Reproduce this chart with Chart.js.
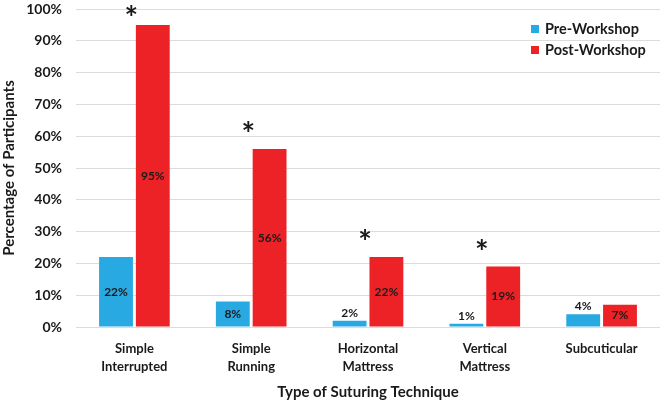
<!DOCTYPE html>
<html>
<head>
<meta charset="utf-8">
<script src="https://cdn.jsdelivr.net/npm/chart.js@4/dist/chart.umd.min.js"></script>
<style>
  html, body { margin: 0; padding: 0; background: #fff; }
  #wrap { width: 666px; height: 401px; position: relative; }
</style>
</head>
<body>
<div id="wrap"><canvas id="chart"></canvas></div>
<script>
// data
var categories = [["Simple", "Interrupted"], ["Simple", "Running"], ["Horizontal", "Mattress"], ["Vertical", "Mattress"], "Subcuticular"];
var preWorkshop = [22, 8, 2, 1, 4];
var postWorkshop = [95, 56, 22, 19, 7];
var significant = [true, true, true, true, false];
var yTicks = [0, 10, 20, 30, 40, 50, 60, 70, 80, 90, 100];

var BLUE = "#29a9e1", RED = "#ec2227";
var FONT = "Lato, 'Open Sans', sans-serif";

// value labels on bars + asterisks over significant groups
var barLabels = {
    id: "barLabels",
    afterDatasetsDraw: function (chart) {
        var ctx = chart.ctx, area = chart.chartArea;
        ctx.save();
        ctx.font = "bold 12px " + FONT;
        ctx.fillStyle = "#1a1a1a";
        ctx.textAlign = "center";
        ctx.textBaseline = "middle";
        chart.data.datasets.forEach(function (ds, di) {
            chart.getDatasetMeta(di).data.forEach(function (bar, i) {
                var h = bar.base - bar.y;
                var y = h > 20 ? (bar.y + bar.base) / 2 : bar.y - 8;
                ctx.fillText(ds.data[i] + "%", bar.x, y);
            });
        });
        // asterisks
        ctx.font = "bold 32px " + FONT;
        var post = chart.getDatasetMeta(1).data;
        significant.forEach(function (s, i) {
            if (!s) return;
            var x = chart.scales.x.getPixelForValue(i) - 3;
            var y = Math.max(post[i].y - 22, area.top + 2);
            ctx.fillText("*", x, y + 9);
        });
        ctx.restore();
    }
};

// legend drawn inside the plot, top right
var innerLegend = {
    id: "innerLegend",
    afterDraw: function (chart) {
        var ctx = chart.ctx;
        ctx.save();
        ctx.font = "bold 14.5px " + FONT;
        ctx.textBaseline = "middle";
        ctx.textAlign = "left";
        chart.data.datasets.forEach(function (ds, i) {
            var y = 29 + i * 21;
            ctx.fillStyle = ds.backgroundColor;
            ctx.fillRect(531, y - 4, 8, 8);
            ctx.fillStyle = "#1a1a1a";
            ctx.fillText(ds.label, 545, y);
        });
        ctx.restore();
    }
};

new Chart(document.getElementById("chart"), {
    type: "bar",
    data: {
        labels: categories,
        datasets: [
            { label: "Pre-Workshop", data: preWorkshop, backgroundColor: BLUE },
            { label: "Post-Workshop", data: postWorkshop, backgroundColor: RED }
        ]
    },
    options: {
        responsive: true,
        maintainAspectRatio: false,
        animation: false,
        devicePixelRatio: 1,
        layout: { padding: { top: 9, right: 6, left: 0, bottom: 0 } },
        categoryPercentage: 0.63,
        barPercentage: 0.92,
        plugins: {
            legend: { display: false },
            tooltip: { enabled: false }
        },
        scales: {
            x: {
                grid: { display: false },
                border: { display: false },
                ticks: {
                    color: "#1a1a1a",
                    font: { family: FONT, size: 13, weight: "bold", lineHeight: 1.35 },
                    maxRotation: 0,
                    padding: 5
                },
                title: {
                    display: true,
                    text: "Type of Suturing Technique",
                    color: "#1a1a1a",
                    font: { family: FONT, size: 15, weight: "bold" },
                    padding: { top: 8, bottom: 0 }
                },
                afterFit: function (s) { s.height = 74; }
            },
            y: {
                min: 0,
                max: 100,
                afterBuildTicks: function (s) {
                    s.ticks = yTicks.map(function (v) { return { value: v }; });
                },
                grid: { color: "#dcdcdc", lineWidth: 1, drawTicks: false },
                border: { display: false },
                ticks: {
                    color: "#1a1a1a",
                    font: { family: FONT, size: 14, weight: "bold" },
                    padding: 14,
                    callback: function (v) { return v + "%"; }
                },
                title: {
                    display: true,
                    text: "Percentage of Participants",
                    color: "#1a1a1a",
                    font: { family: FONT, size: 15, weight: "bold" },
                    padding: { top: 0, bottom: 4 }
                },
                afterFit: function (s) {
                    s.width = 76;
                    s.paddingTop = 0;
                    s.paddingBottom = 0;
                }
            }
        }
    },
    plugins: [barLabels, innerLegend]
});
</script>
</body>
</html>
